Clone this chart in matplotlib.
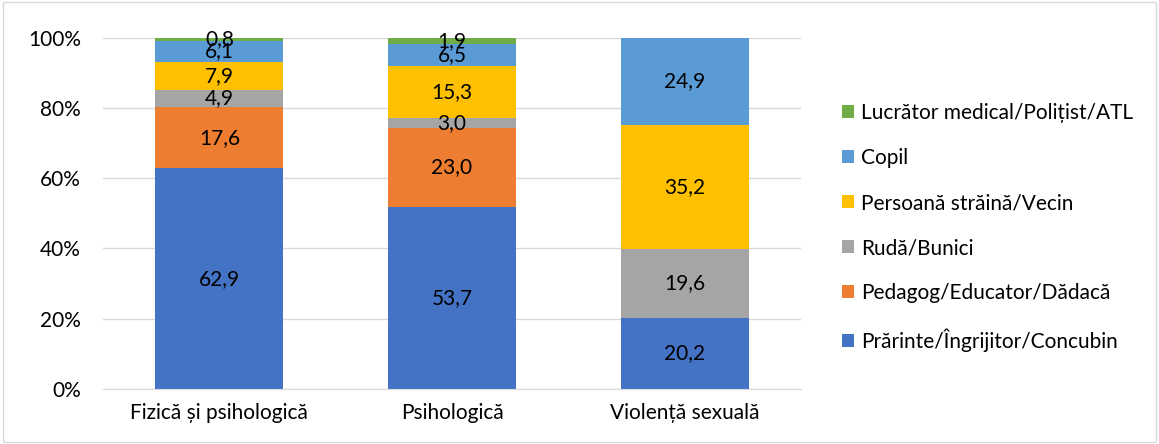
import matplotlib.pyplot as plt
import numpy as np
from matplotlib.patches import Rectangle

plt.rcParams['font.family'] = ['Lato', 'DejaVu Sans']

categories = ['Fizică și psihologică', 'Psihologică', 'Violență sexuală']
series = ['Prărinte/Îngrijitor/Concubin', 'Pedagog/Educator/Dădacă', 'Rudă/Bunici',
          'Persoană străină/Vecin', 'Copil', 'Lucrător medical/Polițist/ATL']
parinte = [62.9, 53.7, 20.2]
pedagog = [17.6, 23.0, 0]
ruda = [4.9, 3.0, 19.6]
straina = [7.9, 15.3, 35.2]
copil = [6.1, 6.5, 24.9]
medical = [0.8, 1.9, 0]
colors = ['#4472C4', '#ED7D31', '#A5A5A5', '#FFC000', '#5B9BD5', '#70AD47']

values = np.array([parinte, pedagog, ruda, straina, copil, medical])
totals = values.sum(axis=0)
pct = values / totals * 100

fs = 15
fig = plt.figure(figsize=(11.59, 4.44), dpi=100)
ax = fig.add_axes([0.089, 0.124, 0.602, 0.791])
x = np.arange(len(categories))
bottom = np.zeros(len(categories))
handles = []
for i in range(len(series)):
    b = ax.bar(x, pct[i], 0.55, bottom=bottom, color=colors[i], label=series[i], zorder=2)
    handles.append(b)
    for j in range(len(categories)):
        if values[i, j] > 0:
            ax.text(x[j], bottom[j] + pct[i, j] / 2, f'{values[i, j]:.1f}'.replace('.', ','),
                    ha='center', va='center', fontsize=fs, color='black', zorder=3)
    bottom += pct[i]

ax.set_xlim(-0.5, 2.5)
ax.set_ylim(0, 100)
ax.set_yticks([0, 20, 40, 60, 80, 100])
ax.set_yticklabels([f'{v}%' for v in [0, 20, 40, 60, 80, 100]], fontsize=fs)
ax.set_xticks(x)
ax.set_xticklabels(categories, fontsize=fs)
ax.grid(axis='y', color='#D9D9D9', linewidth=1, zorder=0)
for s in ['top', 'right', 'left']:
    ax.spines[s].set_visible(False)
ax.spines['bottom'].set_color('#D9D9D9')
ax.tick_params(axis='x', length=0, pad=10)
ax.tick_params(axis='y', length=0, pad=16)

leg = fig.legend(handles[::-1], series[::-1], loc='center left', bbox_to_anchor=(0.71, 0.488),
                 frameon=False, fontsize=fs, handlelength=0.6, handleheight=0.6,
                 labelspacing=1.2, handletextpad=0.35)

fig.patches.append(Rectangle((0.003, 0.005), 0.994, 0.99, transform=fig.transFigure,
                             fill=False, edgecolor='#D9D9D9', linewidth=1))

fig.savefig('out.png', dpi=100)
